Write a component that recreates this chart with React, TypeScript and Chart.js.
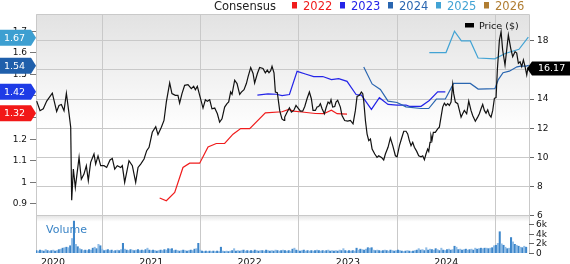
import React, { useEffect, useRef } from "react";
import { Chart, registerables } from "chart.js";

Chart.register(...registerables);

// ---------- axis ticks ----------
const YEAR_TICKS = [2020, 2021, 2022, 2023, 2024];
const EPS_TICKS = [0.9, 1.0, 1.1, 1.2, 1.3, 1.4, 1.5, 1.6, 1.7];
const PRICE_TICKS = [6, 8, 10, 12, 14, 16, 18];
const VOLUME_TICKS = [0, 2, 4, 6];
const VOLUME_TICK_LABELS = ["0", "2k", "4k", "6k"];

// ---------- legend ----------
const LEGEND_TITLE = "Consensus";
const LEGEND_YEARS = ["2022", "2023", "2024", "2025", "2026"];
const LEGEND_COLORS = ["#f01c1c", "#2424e8", "#2a66b0", "#42a3d4", "#b07d32"];

// ---------- price (decimal year, $) ----------
const priceDates = [
  2019.834, 2019.868, 2019.901, 2019.936, 2019.993, 2020.037, 2020.061, 2020.085, 2020.112, 2020.136,
  2020.163, 2020.18, 2020.19, 2020.207, 2020.227, 2020.265, 2020.288, 2020.315, 2020.339, 2020.359,
  2020.383, 2020.417, 2020.434, 2020.458, 2020.485, 2020.519, 2020.546, 2020.58, 2020.603, 2020.628,
  2020.654, 2020.689, 2020.705, 2020.729, 2020.773, 2020.807, 2020.841, 2020.865, 2020.892, 2020.926,
  2020.953, 2020.977, 2021.01, 2021.045, 2021.068, 2021.102, 2021.129, 2021.153, 2021.187, 2021.21,
  2021.244, 2021.271, 2021.288, 2021.312, 2021.339, 2021.373, 2021.407, 2021.431, 2021.448, 2021.468,
  2021.492, 2021.526, 2021.55, 2021.57, 2021.594, 2021.617, 2021.645, 2021.672, 2021.695, 2021.719,
  2021.746, 2021.77, 2021.787, 2021.807, 2021.821, 2021.848, 2021.872, 2021.899, 2021.916, 2021.943,
  2021.967, 2021.984, 2022.011, 2022.035, 2022.051, 2022.079, 2022.102, 2022.136, 2022.16, 2022.18,
  2022.197, 2022.214, 2022.228, 2022.248, 2022.262, 2022.282, 2022.306, 2022.329, 2022.35, 2022.357,
  2022.381, 2022.405, 2022.425, 2022.449, 2022.472, 2022.493, 2022.517, 2022.54, 2022.561, 2022.584,
  2022.608, 2022.628, 2022.645, 2022.669, 2022.686, 2022.703, 2022.72, 2022.737, 2022.761, 2022.778,
  2022.798, 2022.815, 2022.828, 2022.845, 2022.866, 2022.879, 2022.896, 2022.923, 2022.94, 2022.967,
  2022.998, 2023.025, 2023.052, 2023.076, 2023.093, 2023.117, 2023.137, 2023.151, 2023.161, 2023.178,
  2023.195, 2023.212, 2023.229, 2023.246, 2023.273, 2023.296, 2023.313, 2023.341, 2023.364, 2023.381,
  2023.408, 2023.432, 2023.456, 2023.483, 2023.5, 2023.524, 2023.544, 2023.568, 2023.591, 2023.608,
  2023.625, 2023.642, 2023.659, 2023.676, 2023.7, 2023.72, 2023.744, 2023.761, 2023.778, 2023.794,
  2023.811, 2023.822, 2023.835, 2023.845, 2023.856, 2023.869, 2023.889, 2023.913, 2023.93, 2023.947,
  2023.964, 2023.981, 2023.998, 2024.015, 2024.032, 2024.049, 2024.066, 2024.076, 2024.093, 2024.117,
  2024.134, 2024.151, 2024.167, 2024.184, 2024.208, 2024.229, 2024.252, 2024.269, 2024.296, 2024.32,
  2024.337, 2024.354, 2024.371, 2024.388, 2024.405, 2024.422, 2024.439, 2024.456, 2024.473, 2024.49,
  2024.507, 2024.52, 2024.541, 2024.558, 2024.574, 2024.598, 2024.615, 2024.632, 2024.656, 2024.676,
  2024.7, 2024.717, 2024.734, 2024.751, 2024.768, 2024.785, 2024.802, 2024.819, 2024.832,
];
const priceValues = [
  13.86, 13.2, 13.33, 13.86, 14.4, 13.15, 13.56, 13.63, 13.2, 14.4,
  13.0, 12.07, 7.06, 9.2, 7.93, 10.0, 8.5, 8.85, 9.43, 8.4,
  9.66, 10.23, 9.54, 10.1, 9.43, 9.43, 9.31, 9.82, 9.93, 9.2,
  9.43, 9.31, 9.43, 8.28, 9.77, 9.43, 8.28, 9.31, 9.54, 9.89,
  10.46, 10.69, 11.72, 12.1, 11.56, 12.07, 12.53, 13.8, 15.1, 14.37,
  14.25, 14.25, 13.72, 14.37, 14.94, 14.99, 14.71, 14.87, 14.64, 14.87,
  14.25, 13.38, 13.95, 13.84, 13.95, 13.33, 13.38, 12.99, 12.41, 12.64,
  13.45, 13.68, 13.8, 14.48, 14.32, 15.29, 15.06, 14.32, 14.48, 14.64,
  15.06, 15.52, 16.16, 15.75, 15.1, 15.75, 16.16, 16.1, 15.8, 15.98,
  15.8, 15.94, 16.25, 15.8, 14.48, 14.43, 13.2, 12.64, 12.53, 12.76,
  13.1, 13.4, 13.1, 13.22, 13.56, 13.38, 13.17, 13.17, 13.49, 14.02,
  14.48, 14.02, 13.22, 13.22, 13.45, 13.49, 13.68, 13.33, 12.99, 13.4,
  13.79, 13.68, 13.95, 13.45, 13.49, 13.79, 13.91, 13.45, 12.87, 12.53,
  12.48, 12.53, 12.3, 13.22, 14.18, 14.25, 14.48, 14.37, 13.86, 12.53,
  11.6, 11.15, 11.26, 10.57, 10.23, 10.0, 10.11, 10.0, 9.82, 10.23,
  10.69, 11.33, 10.8, 10.11, 10.04, 10.8, 11.26, 11.79, 11.79, 11.61,
  11.15, 10.8, 11.03, 10.69, 10.41, 10.11, 10.04, 10.11, 9.84, 10.23,
  10.57, 10.41, 11.03, 11.49, 11.2, 11.72, 11.72, 11.95, 12.07, 12.76,
  13.45, 13.72, 13.56, 13.68, 13.56, 13.79, 15.0, 14.37, 13.79, 13.68,
  13.22, 12.76, 12.99, 13.22, 12.99, 13.86, 13.22, 12.87, 12.48, 12.76,
  12.99, 13.33, 13.63, 13.22, 13.03, 13.26, 12.91, 12.76, 13.22, 14.05,
  14.1, 15.99, 18.05, 18.62, 17.36, 16.33, 17.36, 18.39, 17.48, 16.9,
  17.25, 17.15, 16.45, 16.55, 16.22, 16.68, 16.22, 15.65, 16.17,
];

// ---------- consensus EPS estimates (decimal year, $) ----------
const eps2022Dates = [
  2021.085, 2021.153, 2021.238, 2021.322, 2021.39, 2021.492, 2021.577, 2021.661, 2021.746, 2021.831,
  2021.909, 2022.001, 2022.16, 2022.33, 2022.398, 2022.449, 2022.533, 2022.669, 2022.754, 2022.832,
  2022.89, 2022.991,
];
const eps2022Values = [
  0.928, 0.915, 0.954, 1.069, 1.089, 1.089, 1.164, 1.18, 1.18, 1.223,
  1.249, 1.249, 1.322, 1.327, 1.338, 1.33, 1.326, 1.319, 1.318, 1.334,
  1.318, 1.316,
];
const eps2023Dates = [
  2022.079, 2022.187, 2022.272, 2022.33, 2022.405, 2022.483, 2022.567, 2022.652, 2022.744, 2022.832,
  2022.906, 2022.991, 2023.083, 2023.137, 2023.239, 2023.32, 2023.408, 2023.5, 2023.591, 2023.625,
  2023.744, 2023.828, 2023.913, 2023.991,
];
const eps2023Values = [
  1.404, 1.41, 1.408, 1.402, 1.407, 1.514, 1.502, 1.49, 1.49, 1.476,
  1.48, 1.468, 1.407, 1.404, 1.338, 1.392, 1.361, 1.358, 1.358, 1.352,
  1.352, 1.379, 1.419, 1.419,
];
const eps2024Dates = [
  2023.161, 2023.246, 2023.33, 2023.408, 2023.5, 2023.591, 2023.744, 2023.822, 2023.9, 2023.991,
  2024.075, 2024.245, 2024.325, 2024.495, 2024.53, 2024.578, 2024.642, 2024.72, 2024.761, 2024.812,
  2024.84,
];
const eps2024Values = [
  1.534, 1.456, 1.43, 1.376, 1.37, 1.35, 1.342, 1.342, 1.386, 1.386,
  1.458, 1.458, 1.432, 1.434, 1.476, 1.508, 1.515, 1.535, 1.538, 1.538,
  1.542,
];
const eps2025Dates = [2023.828, 2023.998, 2024.084, 2024.154, 2024.245, 2024.324, 2024.494, 2024.6, 2024.74, 2024.835];
const eps2025Values = [1.601, 1.601, 1.7, 1.655, 1.655, 1.576, 1.572, 1.597, 1.616, 1.673];

// latest consensus per fiscal year (left badges) and last price (right badge)
const BADGE_VALUES = [1.32, 1.42, 1.54, 1.67];
const BADGE_COLORS = ["#f21818", "#1e3ce6", "#1f5fab", "#3d9fd1"];
const LAST_PRICE = 16.17;

// ---------- weekly volume (thousands) ----------
const VOLUME_START = 2019.83;
const WEEKS_PER_YEAR = 52.18;
const volumeValues = [
  0.5, 0.4, 0.6, 0.5, 0.4, 0.7, 0.5, 0.4, 0.5, 0.6, 0.4, 0.5, 0.7,
  0.8, 1.0, 1.1, 1.2, 1.1,
  1.5, 3.0, 6.6, 1.8, 1.3, 0.9, 0.7,
  0.5, 0.6, 0.5, 0.7, 0.6,
  1.0, 1.2, 0.9, 1.8, 1.5, 0.8,
  0.5, 0.6, 0.7, 0.5, 0.6, 0.4, 0.5, 0.6, 0.5, 0.7,
  2.0, 0.8,
  0.6, 0.5, 0.7, 0.6, 0.5, 0.6, 0.7, 0.5, 0.6, 0.5, 0.7,
  1.0, 0.6,
  0.5, 0.6, 0.5, 0.4, 0.5, 0.6, 0.5, 0.7, 0.6,
  0.9, 0.8, 0.9,
  0.5, 0.6, 0.5, 0.4, 0.5, 0.6, 0.5, 0.4, 0.5, 0.6, 0.5, 0.8, 0.9,
  2.0, 0.6,
  0.4, 0.3, 0.4, 0.3, 0.4, 0.3, 0.4, 0.3, 0.4, 0.3,
  1.2, 0.4,
  0.3, 0.4, 0.3, 0.4, 0.5,
  0.9, 0.4,
  0.5, 0.4, 0.5, 0.6, 0.4, 0.5, 0.4, 0.5, 0.4, 0.6, 0.5, 0.4, 0.5, 0.5, 0.4, 0.6, 0.5, 0.4, 0.5, 0.4,
  0.6, 0.5, 0.4, 0.5, 0.6, 0.5, 0.4, 0.5, 0.4,
  0.8, 1.0, 0.6,
  0.5, 0.4, 0.5, 0.6, 0.4, 0.5, 0.4, 0.5, 0.4, 0.5, 0.6, 0.5, 0.4, 0.5, 0.4, 0.5, 0.6, 0.4, 0.5, 0.4,
  0.5, 0.4, 0.6, 0.5,
  0.9, 0.5,
  0.4, 0.5, 0.4, 0.5, 0.4,
  1.0, 0.6, 0.8, 0.7, 0.6, 0.8, 1.1, 1.0, 1.1, 0.6,
  0.5, 0.6, 0.5, 0.4, 0.5, 0.6, 0.5, 0.4, 0.6, 0.5, 0.4, 0.5, 0.6, 0.5, 0.4, 0.3, 0.4, 0.5, 0.4, 0.3,
  0.4, 0.5, 0.6, 0.9,
  0.6, 0.7, 0.5, 1.1,
  0.6, 0.8, 0.7, 0.6, 0.9, 0.7,
  0.5, 1.0, 0.6, 0.5,
  0.7, 0.8, 0.6, 0.7, 1.4, 1.2, 0.7,
  0.8, 0.6, 0.7, 0.8, 0.6,
  0.7, 0.8, 0.6, 1.0, 0.8,
  0.9, 1.0, 0.9, 1.0, 1.0, 0.9, 1.0, 1.1, 1.5,
  1.6, 2.0, 4.4, 1.9, 1.6, 1.2, 0.9, 1.0,
  3.2, 2.3, 1.8, 1.6, 1.4, 1.2, 1.1, 1.4, 1.2,
];

// ---------- scale ranges ----------
const X_MIN = 2019.827;
const X_MAX = 2024.842;
const EPS_MIN = 0.6731;
const EPS_MAX = 1.7796;
const PRICE_MIN = 3.442;
const PRICE_MAX = 19.831;
const VOL_MAX = 49.45;

const FONT = "DejaVu Sans";
const GRID = "#c9c9c9";

const pts = (xs: number[], ys: number[]) => xs.map((x, i) => ({ x, y: ys[i] }));
const fixTicks = (vals: number[]) => (s: any) => {
  s.ticks = vals.map((v) => ({ value: v }));
};

const decorPlugin = {
  id: "decor",
  beforeDraw(chart: any) {
    const { ctx, chartArea } = chart;
    const { left, right, top, bottom } = chartArea;
    const yP = chart.scales.yPrice;
    const mainBottom = yP.getPixelForValue(PRICE_TICKS[0]);
    ctx.save();
    const g = ctx.createLinearGradient(0, top, 0, mainBottom);
    g.addColorStop(0, "#e2e2e2");
    g.addColorStop(0.58, "#ffffff");
    g.addColorStop(1, "#ffffff");
    ctx.fillStyle = g;
    ctx.fillRect(left, top, right - left, mainBottom - top);
    const g2 = ctx.createLinearGradient(0, mainBottom, 0, mainBottom + 6);
    g2.addColorStop(0, "#e4e4e4");
    g2.addColorStop(1, "#ffffff");
    ctx.fillStyle = g2;
    ctx.fillRect(left, mainBottom, right - left, bottom - mainBottom);
    ctx.restore();
  },
  beforeDatasetsDraw(chart: any) {
    const { ctx, chartArea } = chart;
    const { left, right, top, bottom } = chartArea;
    ctx.save();
    ctx.strokeStyle = GRID;
    ctx.lineWidth = 1;
    ctx.beginPath();
    ctx.moveTo(Math.round(left) + 0.5, bottom);
    ctx.lineTo(Math.round(left) + 0.5, Math.round(top) + 0.5);
    ctx.lineTo(Math.round(right) + 0.5, Math.round(top) + 0.5);
    ctx.lineTo(Math.round(right) + 0.5, bottom);
    ctx.stroke();
    ctx.restore();
  },
  afterDraw(chart: any) {
    const { ctx, chartArea } = chart;
    const { left, right } = chartArea;
    const yE = chart.scales.yEps;
    const yP = chart.scales.yPrice;
    const yV = chart.scales.yVol;
    ctx.save();

    // top legend
    ctx.textBaseline = "alphabetic";
    ctx.textAlign = "left";
    ctx.font = `11.5px "${FONT}"`;
    ctx.fillStyle = "#222";
    ctx.fillText(LEGEND_TITLE, 214, 9.5);
    LEGEND_YEARS.forEach((yr, i) => {
      const x = 292 + i * 48;
      ctx.fillStyle = LEGEND_COLORS[i];
      ctx.fillRect(x, 2, 5, 6.5);
      ctx.fillText(yr, x + 11, 9.5);
    });

    // price legend
    ctx.fillStyle = "#000";
    ctx.fillRect(465, 23, 9, 4.5);
    ctx.font = `9.5px "${FONT}"`;
    ctx.fillStyle = "#111";
    ctx.fillText("Price ($)", 479, 29);

    // volume label
    ctx.font = `11px "${FONT}"`;
    ctx.fillStyle = "#3a84c6";
    ctx.fillText("Volume", 46, 233);

    // volume axis ticks
    ctx.font = `9px "${FONT}"`;
    ctx.fillStyle = "#111";
    ctx.textBaseline = "middle";
    ctx.strokeStyle = "#666";
    ctx.lineWidth = 1;
    VOLUME_TICKS.forEach((v, i) => {
      const y = Math.round(yV.getPixelForValue(v)) + 0.5;
      ctx.beginPath();
      ctx.moveTo(right, y);
      ctx.lineTo(right + 5, y);
      ctx.stroke();
      ctx.fillText(VOLUME_TICK_LABELS[i], right + 7, y);
    });

    // left consensus badges
    ctx.font = `9.5px "${FONT}"`;
    BADGE_VALUES.forEach((v, i) => {
      const y = yE.getPixelForValue(v);
      ctx.fillStyle = BADGE_COLORS[i];
      ctx.beginPath();
      ctx.moveTo(0, y - 8);
      ctx.lineTo(left - 5, y - 8);
      ctx.lineTo(left, y);
      ctx.lineTo(left - 5, y + 8);
      ctx.lineTo(0, y + 8);
      ctx.closePath();
      ctx.fill();
      ctx.fillStyle = "#fff";
      ctx.fillText(v.toFixed(2), 4, y + 0.5);
    });

    // right price badge
    const yp = yP.getPixelForValue(LAST_PRICE) + 1;
    ctx.fillStyle = "#000";
    ctx.beginPath();
    ctx.moveTo(right - 2, yp);
    ctx.lineTo(right + 3, yp - 7);
    ctx.lineTo(570, yp - 7);
    ctx.lineTo(570, yp + 7);
    ctx.lineTo(right + 3, yp + 7);
    ctx.closePath();
    ctx.fill();
    ctx.fillStyle = "#fff";
    ctx.fillText(LAST_PRICE.toFixed(2), right + 9, yp + 0.5);

    ctx.restore();
  },
};

export default function App() {
  const ref = useRef<HTMLCanvasElement | null>(null);

  useEffect(() => {
    document.body.style.margin = "0";
    const canvas = ref.current;
    if (!canvas) return;
    const lineDs = (label: string, xs: number[], ys: number[], color: string, axis: string, w = 1.2) => ({
      type: "line" as const,
      label,
      data: pts(xs, ys),
      yAxisID: axis,
      borderColor: color,
      backgroundColor: color,
      borderWidth: w,
      pointRadius: 0,
      tension: 0,
      fill: false,
    });
    const chart = new Chart(canvas, {
      type: "line",
      data: {
        datasets: [
          lineDs("Price ($)", priceDates, priceValues, "#111111", "yPrice", 1.2),
          lineDs("2025", eps2025Dates, eps2025Values, LEGEND_COLORS[3], "yEps"),
          lineDs("2024", eps2024Dates, eps2024Values, LEGEND_COLORS[2], "yEps"),
          lineDs("2023", eps2023Dates, eps2023Values, LEGEND_COLORS[1], "yEps"),
          lineDs("2022", eps2022Dates, eps2022Values, LEGEND_COLORS[0], "yEps"),
          {
            type: "bar" as const,
            label: "Volume",
            data: volumeValues.map((v, i) => ({ x: VOLUME_START + i / WEEKS_PER_YEAR, y: v })),
            yAxisID: "yVol",
            backgroundColor: volumeValues.map((_, i) => (i % 2 === 0 ? "#3d86ca" : "#8fbce6")),
            borderWidth: 0,
            barThickness: 1.4,
          } as any,
        ],
      },
      options: {
        animation: false,
        responsive: false,
        maintainAspectRatio: false,
        events: [],
        layout: { padding: { top: 14, left: 0, right: 0, bottom: 0 } },
        plugins: { legend: { display: false }, tooltip: { enabled: false } },
        scales: {
          x: {
            type: "linear",
            min: X_MIN,
            max: X_MAX,
            offset: false,
            afterBuildTicks: fixTicks(YEAR_TICKS),
            afterFit: (s: any) => {
              s.height = 11;
            },
            grid: { color: GRID, drawTicks: false },
            border: { display: false },
            ticks: {
              font: { family: FONT, size: 9.5 },
              color: "#111",
              padding: 4,
              maxRotation: 0,
              autoSkip: false,
              callback: (v: any) => String(v),
            },
          },
          yEps: {
            type: "linear",
            position: "left",
            min: EPS_MIN,
            max: EPS_MAX,
            afterBuildTicks: fixTicks(EPS_TICKS),
            afterFit: (s: any) => {
              s.width = 36;
            },
            grid: { drawOnChartArea: false, tickLength: 6, color: "#777" },
            border: { display: false },
            ticks: {
              font: { family: FONT, size: 9 },
              color: "#111",
              padding: 3,
              callback: (v: any) => String(Number(Number(v).toFixed(1))),
            },
          },
          yPrice: {
            type: "linear",
            position: "right",
            min: PRICE_MIN,
            max: PRICE_MAX,
            afterBuildTicks: fixTicks(PRICE_TICKS),
            afterFit: (s: any) => {
              s.width = 41;
            },
            grid: { color: GRID, tickLength: 5, tickColor: "#666" },
            border: { display: false },
            ticks: {
              font: { family: FONT, size: 9 },
              color: "#111",
              padding: 3,
              callback: (v: any) => String(v),
            },
          },
          yVol: {
            type: "linear",
            position: "right",
            display: false,
            min: 0,
            max: VOL_MAX,
          },
        },
      } as any,
      plugins: [decorPlugin],
    });
    return () => chart.destroy();
  }, []);

  return (
    <div style={{ width: 570, height: 264, position: "relative" }}>
      <canvas ref={ref} width={570} height={264} style={{ display: "block", width: 570, height: 264 }} />
    </div>
  );
}
